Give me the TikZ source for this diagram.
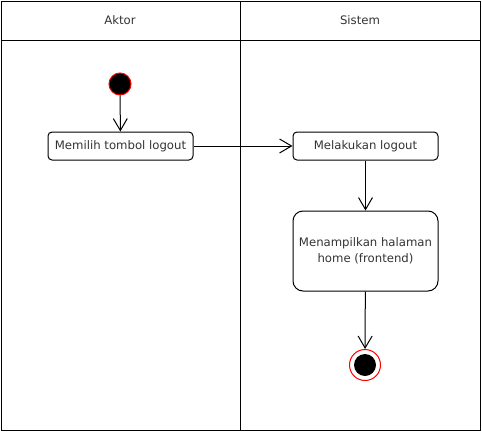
\documentclass[tikz,border=0pt]{standalone}
\usepackage{fontspec}
\setmainfont{DejaVu Sans}
\usetikzlibrary{positioning,arrows.meta}

\begin{document}
\begin{tikzpicture}[x=1pt, y=-1pt, line width=1pt,
    every node/.style={font=\fontsize{11.7}{16}\selectfont, text=black!80},
    action/.style={rectangle, draw, rounded corners=4pt, minimum width=145pt, minimum height=28pt, inner sep=2pt, align=center},
    flow/.style={-{Straight Barb[length=12pt, width=14pt, line width=1pt]}}]
    \useasboundingbox (0,0) rectangle (482,439);

    % Swimlanes
    \draw (1,1) rectangle (480,430);
    \draw (1,40) -- (480,40);
    \draw (240,1) -- (240,430);
    \node (laneA) at (120,20) {Aktor};
    \node (laneS) at (360,20) {Sistem};

    % Start and end
    \node[circle, draw=red, fill=black, minimum size=22pt, inner sep=0pt] (start) at (120,84) {};
    \node[circle, draw=red, fill=white, minimum size=31pt, inner sep=0pt] (stop) at (365,365) {};
    \node[circle, fill=black, minimum size=22pt, inner sep=0pt] at (stop) {};

    % Actions
    \node[action] (pilih) at (120.5,146) {Memilih tombol logout};
    \node[action] (logout) at (365.5,146) {Melakukan logout};
    \node[action, rounded corners=10pt, minimum height=80pt] (home) at (365.5,251) {Menampilkan halaman\\home (frontend)};

    % Flow
    \draw[flow] (start) -- (pilih);
    \draw[flow] (pilih) -- (logout);
    \draw[flow] (logout) -- (home);
    \draw[flow] (home) -- (stop);
\end{tikzpicture}
\end{document}
